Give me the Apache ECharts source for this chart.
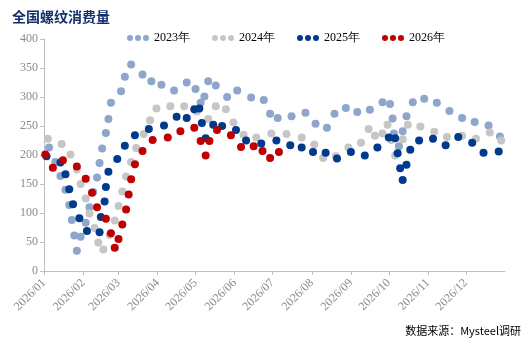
<!DOCTYPE html>
<html>
<head>
<meta charset="utf-8">
<script src="https://cdn.jsdelivr.net/npm/echarts@6/dist/echarts.min.js"></script>
<style>
  html, body { margin: 0; padding: 0; background: #fff; }
  #chart { width: 526px; height: 341px; }
</style>
</head>
<body>
<div id="chart"></div>
<script>
// 每个点：当年第几天 (1 月 1 日 = 0) + 消费量(万吨)
const days2023 = [4, 9, 13, 17, 20, 22, 24, 26, 29, 33, 36, 39, 42, 44, 46, 49, 51, 53, 61, 64, 69, 78, 85, 93, 103, 113, 120, 124, 127, 130, 136, 145, 153, 164, 174, 179, 185, 196, 207, 215, 224, 230, 239, 248, 258, 268, 274, 276, 277, 281, 284, 287, 292, 301, 311, 321, 331, 341, 352, 361]
const vals2023 = [213, 188, 164, 140, 114, 88, 61, 35, 59, 83, 110, 136, 161, 186, 211, 238, 262, 290, 310, 335, 356, 339, 327, 321, 311, 325, 314, 290, 301, 327, 320, 300, 311, 299, 295, 271, 264, 267, 273, 254, 247, 271, 281, 274, 278, 291, 288, 263, 237, 215, 241, 267, 291, 297, 290, 276, 264, 257, 251, 232]

const days2024 = [3, 14, 21, 26, 29, 33, 36, 40, 43, 47, 52, 56, 59, 62, 65, 69, 73, 79, 84, 89, 100, 111, 121, 130, 136, 144, 150, 158, 168, 180, 192, 204, 214, 221, 231, 241, 251, 257, 262, 268, 272, 275, 278, 284, 288, 298, 309, 319, 331, 342, 353, 362]
const vals2024 = [228, 219, 201, 175, 150, 125, 99, 74, 49, 37, 62, 87, 112, 137, 163, 188, 212, 236, 260, 280, 284, 284, 275, 262, 284, 279, 256, 235, 230, 237, 236, 230, 218, 195, 198, 213, 221, 245, 233, 237, 252, 226, 199, 227, 252, 249, 240, 231, 233, 228, 239, 225]

const days2025 = [2, 13, 17, 20, 23, 28, 34, 44, 45, 48, 49, 51, 58, 64, 72, 83, 95, 105, 113, 119, 123, 125, 128, 134, 141, 152, 160, 172, 184, 195, 204, 213, 223, 232, 243, 254, 264, 273, 278, 280, 282, 284, 287, 290, 297, 308, 318, 328, 339, 348, 360]
const vals2025 = [198, 187, 167, 141, 115, 91, 69, 67, 93, 120, 145, 171, 193, 216, 234, 245, 251, 266, 264, 279, 280, 255, 229, 252, 250, 243, 225, 220, 225, 217, 213, 205, 204, 194, 205, 199, 213, 230, 229, 203, 177, 157, 183, 209, 225, 228, 217, 231, 221, 204, 206]

const days2026 = [1, 7, 15, 26, 33, 38, 42, 49, 53, 56, 59, 62, 65, 67, 69, 72, 78, 86, 98, 108, 119, 124, 128, 131, 137, 148, 156, 166, 173, 179, 186]
const vals2026 = [201, 178, 191, 180, 159, 135, 110, 90, 65, 40, 55, 80, 106, 132, 158, 184, 207, 226, 230, 241, 247, 224, 199, 224, 243, 234, 214, 215, 207, 195, 205]

// 每月 1 日对应的天数，以及刻度标签
const monthStartDays = [0, 31, 59, 90, 120, 151, 181, 212, 243, 273, 304, 334]
const monthLabels = ['2026/01', '2026/02', '2026/03', '2026/04', '2026/05', '2026/06', '2026/07', '2026/08', '2026/09', '2026/10', '2026/11', '2026/12']

const yearNames = ['2023年', '2024年', '2025年', '2026年']
const yearColors = ['#8EA5CC', '#C6C6C6', '#003A8C', '#C00000']
const yearDays = [days2023, days2024, days2025, days2026]
const yearVals = [vals2023, vals2024, vals2025, vals2026]

// 图例：三个圆点
const dotsIcon = 'path://M0,3A3,3 0 1 1 6,3A3,3 0 1 1 0,3ZM8,3A3,3 0 1 1 14,3A3,3 0 1 1 8,3ZM16,3A3,3 0 1 1 22,3A3,3 0 1 1 16,3Z'

const series = yearNames.map((name, i) => ({
  name: name,
  type: 'scatter',
  symbolSize: 8,
  itemStyle: { color: yearColors[i], opacity: 1 },
  data: yearDays[i].map((d, k) => [d, yearVals[i][k]])
}))

const chart = echarts.init(document.getElementById('chart'))
chart.setOption({
  animation: false,
  title: {
    text: '全国螺纹消费量',
    left: 7,
    top: 5,
    textStyle: { fontFamily: 'Noto Sans CJK SC', fontSize: 14, fontWeight: 'bold', color: '#13306E' }
  },
  legend: {
    top: 27,
    left: 122,
    itemWidth: 22,
    itemHeight: 6,
    itemGap: 22,
    icon: dotsIcon,
    textStyle: { fontFamily: 'Liberation Serif', fontSize: 12, color: '#000' },
    data: yearNames
  },
  grid: { left: 44, right: 21, top: 39, bottom: 70 },
  xAxis: {
    type: 'value',
    min: 0,
    max: 365,
    axisLine: { lineStyle: { color: '#BFBFBF' } },
    axisTick: { show: true, length: 4, lineStyle: { color: '#BFBFBF' }, customValues: monthStartDays },
    splitLine: { show: false },
    axisLabel: {
      rotate: 45,
      margin: 10,
      fontFamily: 'Liberation Serif',
      fontSize: 12,
      color: '#8C8C8C',
      customValues: monthStartDays,
      formatter: (v) => monthLabels[monthStartDays.indexOf(v)]
    }
  },
  yAxis: {
    type: 'value',
    min: 0,
    max: 400,
    interval: 50,
    axisLine: { show: true, lineStyle: { color: '#BFBFBF' } },
    axisTick: { show: true, length: 4, lineStyle: { color: '#BFBFBF' } },
    splitLine: { show: false },
    axisLabel: { fontFamily: 'Liberation Serif', fontSize: 12, color: '#8C8C8C', margin: 6 }
  },
  graphic: [{
    type: 'text',
    right: 5,
    bottom: 5,
    style: { text: '数据来源：Mysteel调研', fontFamily: 'Noto Sans CJK SC', fontSize: 11, fill: '#000' }
  }],
  series: series
})
</script>
</body>
</html>
